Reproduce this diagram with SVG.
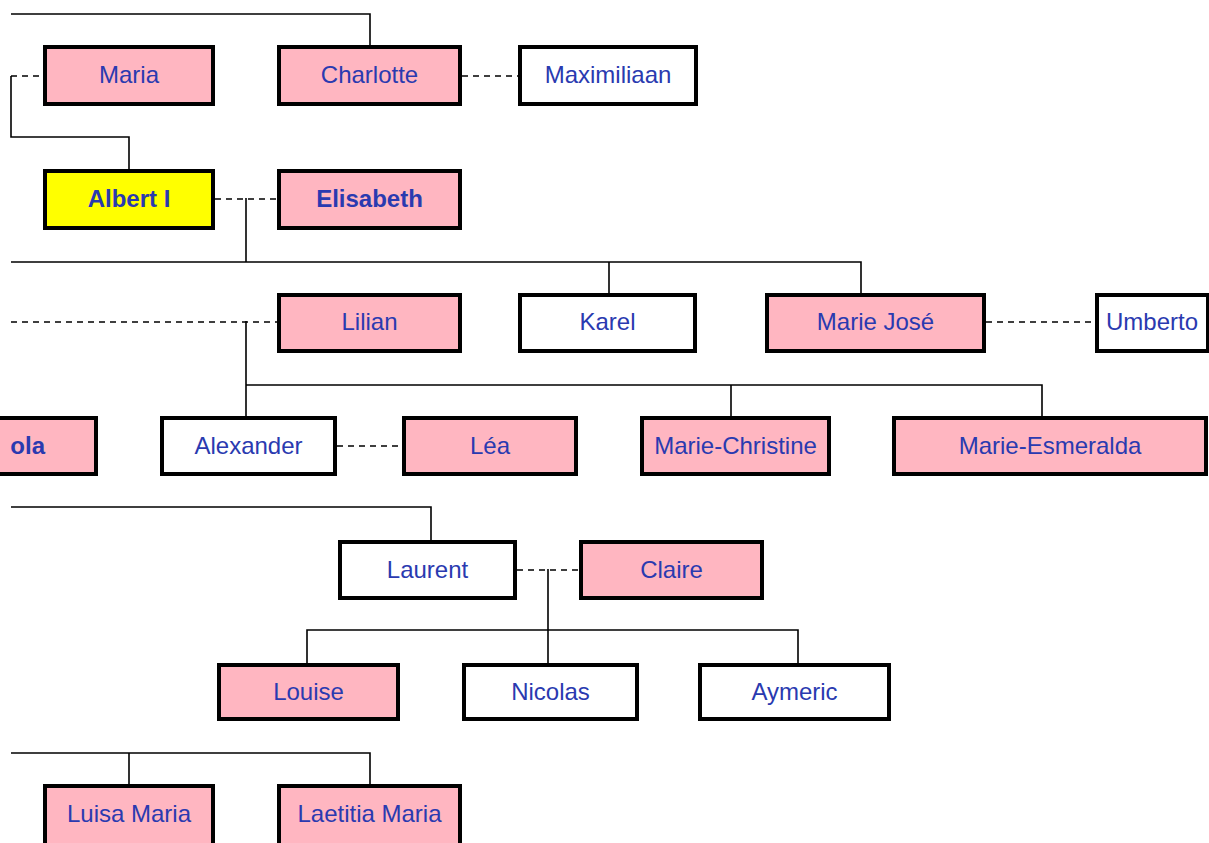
<svg xmlns="http://www.w3.org/2000/svg" width="1209" height="843" viewBox="0 0 1209 843">
<style>
.box{stroke:#000;stroke-width:4}
.pink{fill:#ffb6c1}
.white{fill:#fff}
.yellow{fill:#ffff00}
.lbl{font-family:"Liberation Sans",Arial,sans-serif;font-size:24px;fill:#2a3ab0;text-anchor:middle}
.b{font-weight:bold}
.ln{fill:none;stroke:#000;stroke-width:1.6}
.ds{fill:none;stroke:#000;stroke-width:1.6;stroke-dasharray:6,5}
</style>
<rect width="1209" height="843" fill="#fff"/>
<g id="connectors">
<path class="ln" d="M11,14 H370 V45"/>
<path class="ln" d="M11,76 V137 H129 V169"/>
<path class="ln" d="M246,198 V262"/>
<path class="ln" d="M11,262 H861 V293 M609,262 V293"/>
<path class="ln" d="M246,321 V416 M246,385 H1042 V416 M731,385 V416"/>
<path class="ln" d="M11,507 H431 V540"/>
<path class="ln" d="M548,569 V663 M307,663 V630 H798 V663"/>
<path class="ln" d="M11,753 H370 V784 M129,753 V784"/>
<path class="ds" d="M11,76 H43"/>
<path class="ds" d="M462,76 H518"/>
<path class="ds" d="M215,199 H277"/>
<path class="ds" d="M11,322 H277"/>
<path class="ds" d="M986,322 H1095"/>
<path class="ds" d="M337,446 H402"/>
<path class="ds" d="M517,570 H579"/>
</g>
<g id="maria"><rect class="box pink" x="45" y="47" width="168" height="57"/><text class="lbl" x="129" y="83">Maria</text></g>
<g id="charlotte"><rect class="box pink" x="279" y="47" width="181" height="57"/><text class="lbl" x="369.5" y="83">Charlotte</text></g>
<g id="maximiliaan"><rect class="box white" x="520" y="47" width="176" height="57"/><text class="lbl" x="608" y="83">Maximiliaan</text></g>
<g id="albert"><rect class="box yellow" x="45" y="171" width="168" height="57"/><text class="lbl b" x="129" y="207">Albert I</text></g>
<g id="elisabeth"><rect class="box pink" x="279" y="171" width="181" height="57"/><text class="lbl b" x="369.5" y="207">Elisabeth</text></g>
<g id="lilian"><rect class="box pink" x="279" y="295" width="181" height="56"/><text class="lbl" x="369.5" y="330">Lilian</text></g>
<g id="karel"><rect class="box white" x="520" y="295" width="175" height="56"/><text class="lbl" x="607.5" y="330">Karel</text></g>
<g id="mariejose"><rect class="box pink" x="767" y="295" width="217" height="56"/><text class="lbl" x="875.5" y="330">Marie José</text></g>
<g id="umberto"><rect class="box white" x="1097" y="295" width="111" height="56"/><text class="lbl" x="1152" y="330">Umberto</text></g>
<g id="paola"><rect class="box pink" x="-100" y="418" width="196" height="56"/><text class="lbl b" x="45" y="454" style="text-anchor:end">ola</text></g>
<g id="alexander"><rect class="box white" x="162" y="418" width="173" height="56"/><text class="lbl" x="248.5" y="454">Alexander</text></g>
<g id="lea"><rect class="box pink" x="404" y="418" width="172" height="56"/><text class="lbl" x="490" y="454">Léa</text></g>
<g id="mariechristine"><rect class="box pink" x="642" y="418" width="187" height="56"/><text class="lbl" x="735.5" y="454">Marie-Christine</text></g>
<g id="marieesmeralda"><rect class="box pink" x="894" y="418" width="312" height="56"/><text class="lbl" x="1050" y="454">Marie-Esmeralda</text></g>
<g id="laurent"><rect class="box white" x="340" y="542" width="175" height="56"/><text class="lbl" x="427.5" y="578">Laurent</text></g>
<g id="claire"><rect class="box pink" x="581" y="542" width="181" height="56"/><text class="lbl" x="671.5" y="578">Claire</text></g>
<g id="louise"><rect class="box pink" x="219" y="665" width="179" height="54"/><text class="lbl" x="308.5" y="700">Louise</text></g>
<g id="nicolas"><rect class="box white" x="464" y="665" width="173" height="54"/><text class="lbl" x="550.5" y="700">Nicolas</text></g>
<g id="aymeric"><rect class="box white" x="700" y="665" width="189" height="54"/><text class="lbl" x="794.5" y="700">Aymeric</text></g>
<g id="luisamaria"><rect class="box pink" x="45" y="786" width="168" height="80"/><text class="lbl" x="129" y="822">Luisa Maria</text></g>
<g id="laetitiamaria"><rect class="box pink" x="279" y="786" width="181" height="80"/><text class="lbl" x="369.5" y="822">Laetitia Maria</text></g>
</svg>
